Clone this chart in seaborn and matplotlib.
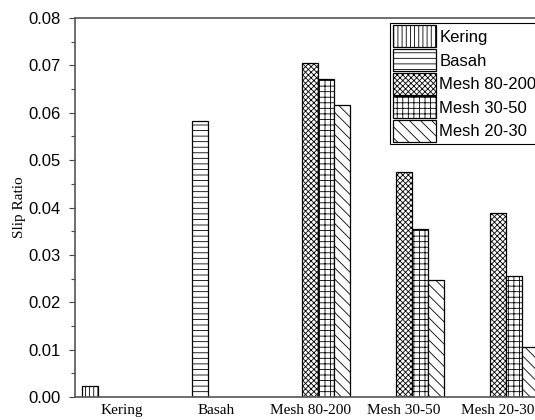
import pandas as pd
import matplotlib
matplotlib.use("Agg")
import matplotlib.pyplot as plt
import seaborn as sns
from matplotlib.patches import Patch
from matplotlib.ticker import MultipleLocator

# Data
categories = ['Kering', 'Basah', 'Mesh 80-200', 'Mesh 30-50', 'Mesh 20-30']
series = ['Kering', 'Basah', 'Mesh 80-200', 'Mesh 30-50', 'Mesh 20-30']
group = ['Kering', 'Basah', 'Mesh 80-200', 'Mesh 80-200', 'Mesh 80-200',
         'Mesh 30-50', 'Mesh 30-50', 'Mesh 30-50',
         'Mesh 20-30', 'Mesh 20-30', 'Mesh 20-30']
sample = ['Kering', 'Basah', 'Mesh 80-200', 'Mesh 30-50', 'Mesh 20-30',
          'Mesh 80-200', 'Mesh 30-50', 'Mesh 20-30',
          'Mesh 80-200', 'Mesh 30-50', 'Mesh 20-30']
slip = [0.0023, 0.0583, 0.0704, 0.0672, 0.0617,
        0.0475, 0.0354, 0.0247,
        0.0388, 0.0255, 0.0106]
yticks = [0.00, 0.01, 0.02, 0.03, 0.04, 0.05, 0.06, 0.07, 0.08]

df = pd.DataFrame({'group': group, 'sample': sample, 'slip': slip})

hatches = {'Kering': '||||', 'Basah': '---', 'Mesh 80-200': 'xxxxxx',
           'Mesh 30-50': '+++', 'Mesh 20-30': '\\\\\\'}

plt.rcParams['hatch.linewidth'] = 0.6
plt.rcParams['hatch.color'] = 'black'

fig = plt.figure(figsize=(5.35, 4.2), dpi=100)
ax = fig.add_axes([75 / 535, 23 / 420, 470 / 535, 379 / 420])

sns.barplot(data=df, x='group', y='slip', hue='sample', order=categories,
            hue_order=series, width=0.85, palette=['white'] * 5,
            edgecolor='black', linewidth=0.9, legend=False, ax=ax)

for cont, name in zip(ax.containers, series):
    for bar in cont:
        bar.set_hatch(hatches[name])
        bar.set_facecolor('white')
        bar.set_edgecolor('black')

ax.set_xlim(-0.5, 4.5)
ax.set_ylim(0, 0.08)
ax.set_yticks(yticks)
ax.set_yticklabels([f'{v:.2f}' for v in yticks], family='Liberation Sans', fontsize=12)
ax.yaxis.set_minor_locator(MultipleLocator(0.005))
ax.tick_params(axis='y', which='major', direction='out', length=4, width=0.8, color='#444444', pad=6)
ax.tick_params(axis='y', which='minor', direction='out', length=3, width=0.8, color='#444444')
ax.tick_params(axis='x', length=0, pad=5)
for lab in ax.get_xticklabels():
    lab.set_family('Liberation Serif')
    lab.set_fontsize(11)

ax.set_xlabel('')
ax.set_ylabel('Slip Ratio', family='Liberation Serif', fontsize=11, labelpad=2)

for side in ['left', 'bottom', 'top', 'right']:
    ax.spines[side].set_color('#555555')
    ax.spines[side].set_linewidth(1.2)

handles = [Patch(facecolor='white', edgecolor='black', hatch=hatches[s], linewidth=0.9)
           for s in series]
leg = fig.legend(handles, series, loc='upper left', bbox_to_anchor=(390 / 535, 1 - 23 / 420),
                 bbox_transform=fig.transFigure, frameon=True, fancybox=False,
                 edgecolor='black', framealpha=1, handlelength=2.6, handleheight=1.65,
                 handletextpad=0.2, labelspacing=0.1, borderpad=0.15,
                 borderaxespad=0, prop={'family': 'Liberation Sans', 'size': 12})
leg.get_frame().set_linewidth(0.8)

fig.savefig('out.png', dpi=100)
